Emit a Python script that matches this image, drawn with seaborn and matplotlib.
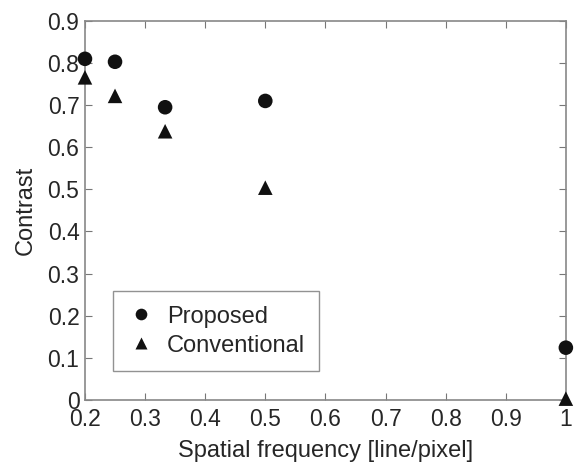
import pandas as pd
import seaborn as sns
import matplotlib.pyplot as plt

# Data
freq = [0.2, 0.25, 1/3, 0.5, 1.0]
proposed = [0.81, 0.803, 0.695, 0.71, 0.124]
conventional = [0.766, 0.722, 0.638, 0.504, 0.003]

df = pd.DataFrame({
    'freq': freq * 2,
    'contrast': proposed + conventional,
    'method': ['Proposed'] * len(freq) + ['Conventional'] * len(freq),
})

sns.set_style('ticks')
plt.rcParams['font.family'] = ['Liberation Sans', 'DejaVu Sans']

fig = plt.figure(figsize=(5.78, 4.65), dpi=100)
ax = fig.add_axes([0.147, 0.14, 0.832, 0.815])

sns.scatterplot(data=df, x='freq', y='contrast', style='method', hue='method',
                markers={'Proposed': 'o', 'Conventional': '^'},
                palette={'Proposed': '#111111', 'Conventional': '#111111'},
                s=110, edgecolor='none', ax=ax, clip_on=False, zorder=3)

ax.set_xlim(0.2, 1.0)
ax.set_ylim(0, 0.9)
ax.set_xticks([0.2, 0.3, 0.4, 0.5, 0.6, 0.7, 0.8, 0.9, 1.0])
ax.set_xticklabels(['0.2', '0.3', '0.4', '0.5', '0.6', '0.7', '0.8', '0.9', '1'])
ax.set_yticks([0, 0.1, 0.2, 0.3, 0.4, 0.5, 0.6, 0.7, 0.8, 0.9])
ax.set_yticklabels(['0', '0.1', '0.2', '0.3', '0.4', '0.5', '0.6', '0.7', '0.8', '0.9'])
ax.tick_params(direction='in', top=True, right=True, length=5, width=0.8,
               color='#777777', labelsize=16.5)
ax.tick_params(axis='y', pad=4)
ax.tick_params(axis='x', pad=6)
for sp in ax.spines.values():
    sp.set_visible(True)
    sp.set_color('#888888')
    sp.set_linewidth(1.2)

ax.set_xlabel('Spatial frequency [line/pixel]', fontsize=17, labelpad=6)
ax.set_ylabel('Contrast', fontsize=17, labelpad=8)

leg = ax.legend(loc='lower left', bbox_to_anchor=(0.058, 0.0765), fontsize=17,
                frameon=True, fancybox=False, edgecolor='#777777',
                borderaxespad=0, handletextpad=0.55, borderpad=0.6,
                labelspacing=0.3, handlelength=1.15, markerscale=0.8)
leg.get_frame().set_linewidth(1.0)

plt.savefig('out.png', dpi=100)
